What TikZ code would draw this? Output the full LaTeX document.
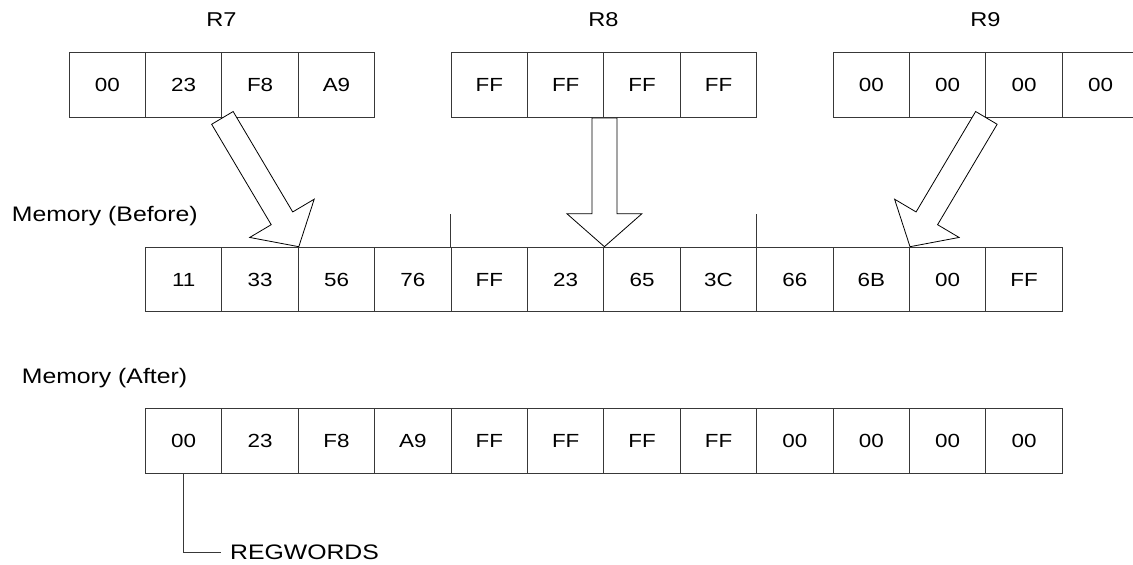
\documentclass[tikz,border=0pt]{standalone}
\usepackage{fontspec}
\setmainfont{Liberation Sans}
\usepackage{graphicx}
\usetikzlibrary{calc}
\newcommand\hx[1]{\scalebox{1.18}[1]{#1}}
\newcommand\blockarr[2]{%
  \coordinate (baT) at (#2);
  \coordinate (baH) at ($(#2)!33pt!(#1)$);
  \draw[barrow] ($(#1)!12.5pt!90:(baT)$) -- ($(baH)!12.5pt!90:(baT)$) -- ($(baH)!37.5pt!90:(baT)$) -- (baT) -- ($(baH)!37.5pt!-90:(baT)$) -- ($(baH)!12.5pt!-90:(baT)$) -- ($(#1)!12.5pt!-90:(baT)$) -- cycle;}
\tikzset{
  cellline/.style={draw=black!78, line width=1pt},
  cell/.style={cellline, minimum width=76.4pt, minimum height=64.6pt, inner sep=0pt, anchor=north west, font=\fontsize{19}{19}\selectfont},
  barrow/.style={draw=black, line width=0.8pt, fill=white},
  rlbl/.style={inner sep=0pt, anchor=base, font=\fontsize{20}{20}\selectfont},
  mlbl/.style={inner sep=0pt, anchor=base west, font=\fontsize{21}{21}\selectfont}
}
\begin{document}
\begin{tikzpicture}[x=1pt, y=-1pt]
\useasboundingbox (0,0) rectangle (1133,565);
% registers
\foreach \v [count=\i from 0] in {00,23,F8,A9}
  \node[cell] (r7\i) at ({145+76.4*(\i-1)},52.3) {\hx{\v}};
\foreach \v [count=\i from 0] in {FF,FF,FF,FF}
  \node[cell] (r8\i) at ({145+76.4*(\i+4)},52.3) {\hx{\v}};
\foreach \v [count=\i from 0] in {00,00,00,00}
  \node[cell] (r9\i) at ({145+76.4*(\i+9)},52.3) {\hx{\v}};
\node[rlbl] (l7) at (221.5,26.7) {\hx{R7}};
\node[rlbl] (l8) at (603.4,26.7) {\hx{R8}};
\node[rlbl] (l9) at (985.4,26.7) {\hx{R9}};
% memory before
\node[mlbl] (mbl) at (11.7,221.7) {\hx{Memory (Before)}};
\foreach \v [count=\i from 0] in {11,33,56,76,FF,23,65,3C,66,6B,00,FF}
  \node[cell] (mb\i) at ({145+76.4*\i},246.7) {\hx{\v}};
\draw[cellline] (mb4.north west) -- ++(0,-33);
\draw[cellline] (mb8.north west) -- ++(0,-33);
% memory after
\node[mlbl] (mal) at (21.7,383.3) {\hx{Memory (After)}};
\foreach \v [count=\i from 0] in {00,23,F8,A9,FF,FF,FF,FF,00,00,00,00}
  \node[cell] (ma\i) at ({145+76.4*\i},408) {\hx{\v}};
% arrows
\blockarr{r71.south east}{mb1.north east}
\blockarr{r81.south east}{mb5.north east}
\blockarr{r91.south east}{mb9.north east}
% REGWORDS
\node[inner xsep=9pt, inner ysep=0pt, anchor=west, font=\fontsize{21}{21}\selectfont] (regw) at (221,552) {\hx{REGWORDS}};
\draw[cellline] (ma0.south) |- (regw.west);
\end{tikzpicture}
\end{document}
